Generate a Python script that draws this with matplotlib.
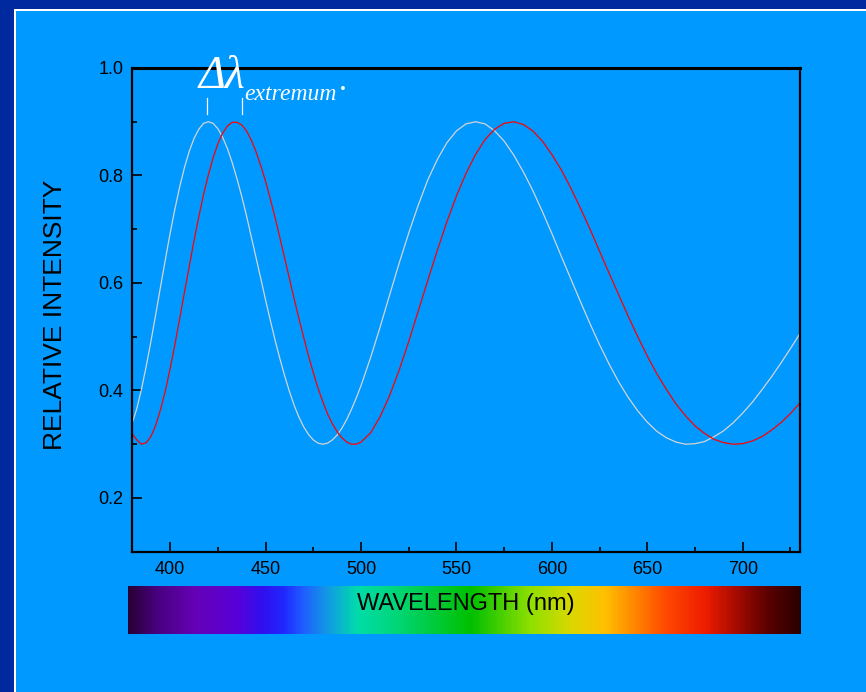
import numpy as np
import matplotlib.pyplot as plt
from matplotlib.colors import LinearSegmentedColormap
from matplotlib.lines import Line2D
from matplotlib.patches import Rectangle

W, H = 866, 692

# 2.5 nm steps over the steep blue part, 5 nm after that
wavelength = [380 + 2.5 * i for i in range(49)] + list(range(505, 731, 5))
white_curve = [0.338, 0.366, 0.403, 0.446, 0.493, 0.543, 0.594, 0.644, 0.693, 0.738,
               0.779, 0.815, 0.845, 0.869, 0.886, 0.897, 0.900, 0.897, 0.887, 0.871,
               0.850, 0.824, 0.794, 0.761, 0.725, 0.686, 0.647, 0.608, 0.568, 0.530,
               0.493, 0.459, 0.427, 0.398, 0.372, 0.350, 0.332, 0.318, 0.308, 0.302,
               0.300, 0.302, 0.308, 0.317, 0.330, 0.346, 0.365, 0.386, 0.409,
               0.461, 0.518, 0.578, 0.637, 0.693,
               0.745, 0.792, 0.830, 0.861, 0.883, 0.896, 0.900, 0.896, 0.883, 0.864,
               0.838, 0.807, 0.772, 0.733, 0.692, 0.649, 0.607, 0.565, 0.524, 0.485,
               0.449, 0.416, 0.387, 0.362, 0.341, 0.324, 0.312, 0.304, 0.300, 0.301,
               0.305, 0.314, 0.325, 0.340, 0.358, 0.378, 0.401, 0.425, 0.451, 0.478,
               0.506]
red_curve = [0.320, 0.308, 0.300, 0.303, 0.315, 0.336, 0.365, 0.400, 0.441, 0.486,
             0.534, 0.583, 0.631, 0.679, 0.723, 0.765, 0.801, 0.833, 0.859, 0.879,
             0.892, 0.899, 0.899, 0.894, 0.883, 0.866, 0.844, 0.818, 0.789, 0.756,
             0.721, 0.684, 0.646, 0.608, 0.570, 0.533, 0.498, 0.464, 0.433, 0.404,
             0.379, 0.356, 0.338, 0.323, 0.312, 0.304, 0.300, 0.300, 0.304,
             0.321, 0.351, 0.391, 0.438, 0.491,
             0.548, 0.605, 0.661, 0.714, 0.762, 0.804, 0.839, 0.867, 0.886, 0.897,
             0.900, 0.895, 0.883, 0.864, 0.839, 0.810, 0.776, 0.739, 0.700, 0.659,
             0.618, 0.578, 0.538, 0.500, 0.464, 0.431, 0.402, 0.375, 0.353, 0.334,
             0.320, 0.309, 0.303, 0.300, 0.301, 0.306, 0.314, 0.326, 0.340, 0.357,
             0.377]
x_ticks = [400, 450, 500, 550, 600, 650, 700]
y_ticks = [0.2, 0.4, 0.6, 0.8, 1.0]

dark_blue = '#0029a0'
light_blue = '#0099ff'


def fx(x):
    return x / W


def fy(y):
    return 1 - y / H


plt.rcParams['font.family'] = ['Liberation Sans', 'DejaVu Sans']

fig = plt.figure(figsize=(W / 100, H / 100), dpi=100)
fig.patch.set_facecolor(dark_blue)
fig.patches.append(Rectangle((fx(14), 0), 1, fy(9), transform=fig.transFigure,
                             facecolor='white', edgecolor='none', zorder=-2))
fig.patches.append(Rectangle((fx(16), 0), 1, fy(11), transform=fig.transFigure,
                             facecolor=light_blue, edgecolor='none', zorder=-1))

ax = fig.add_axes([fx(132), fy(551.7), (800 - 132) / W, (551.7 - 68) / H])
ax.set_facecolor(light_blue)
ax.plot(wavelength, white_curve, color='#d4d4d4', lw=0.9)
ax.plot(wavelength, red_curve, color='#ff0000', lw=0.9)

ax.set_xlim(380, 730)
ax.set_ylim(0.1, 1.0)
ax.set_xticks(x_ticks)
ax.set_xticks([425, 475, 525, 575, 625, 675, 725], minor=True)
ax.set_yticks(y_ticks)
ax.set_yticks([0.3, 0.5, 0.7, 0.9], minor=True)
ax.set_yticklabels(['0.2', '0.4', '0.6', '0.8', '1.0'])
ax.tick_params(axis='both', which='major', direction='in', length=7.5, width=1.2,
               labelsize=13, colors='black')
ax.tick_params(axis='both', which='minor', direction='in', length=3.8, width=1.2)
ax.tick_params(axis='x', which='major', pad=7)
ax.tick_params(axis='y', which='major', pad=6)
for s in ['left', 'bottom', 'right']:
    ax.spines[s].set_linewidth(1.6)
ax.spines['top'].set_linewidth(2.2)

ax.set_ylabel('RELATIVE INTENSITY', fontsize=19)
ax.yaxis.set_label_coords(-0.097, 0.49)

# spectrum strip under the axes
spectrum = LinearSegmentedColormap.from_list('spectrum', [
    (0.0, '#2a0036'), (0.04, '#48007e'), (0.10, '#6600b8'), (0.16, '#5800d8'),
    (0.20, '#3010f0'), (0.23, '#2028ff'), (0.26, '#2060ff'), (0.30, '#10a0e0'),
    (0.34, '#00dcaa'), (0.39, '#00d880'), (0.51, '#00c000'), (0.60, '#90e000'),
    (0.66, '#dcd800'), (0.71, '#ffc000'), (0.75, '#ff8c00'), (0.80, '#ff4a00'),
    (0.86, '#ee1c00'), (0.91, '#a00a00'), (0.955, '#580000'), (1.0, '#2a0000')])
bar = fig.add_axes([fx(128), fy(634), (800 - 128) / W, (634 - 586) / H])
bar.imshow(np.linspace(0, 1, 600).reshape(1, -1), aspect='auto', cmap=spectrum)
bar.axis('off')
fig.text(fx(466), fy(604), 'WAVELENGTH (nm)', fontsize=17, ha='center', va='center',
         color='black')

# delta lambda annotation
fig.text(fx(199), fy(88), 'Δλ', fontsize=33, family='Liberation Serif',
         style='italic', color='white', ha='left', va='baseline')
fig.text(fx(244), fy(100), 'extremum', fontsize=17, family='Liberation Serif',
         style='italic', color='white', ha='left', va='baseline')
fig.text(fx(343), fy(90), '·', fontsize=17, family='Liberation Serif',
         color='white', ha='center', va='center', fontweight='bold')
for xp in [207, 242]:
    fig.lines.append(Line2D([fx(xp), fx(xp)], [fy(98), fy(114)],
                            transform=fig.transFigure, color='white', lw=0.9))

fig.savefig('out.png', dpi=100, facecolor=fig.get_facecolor())
